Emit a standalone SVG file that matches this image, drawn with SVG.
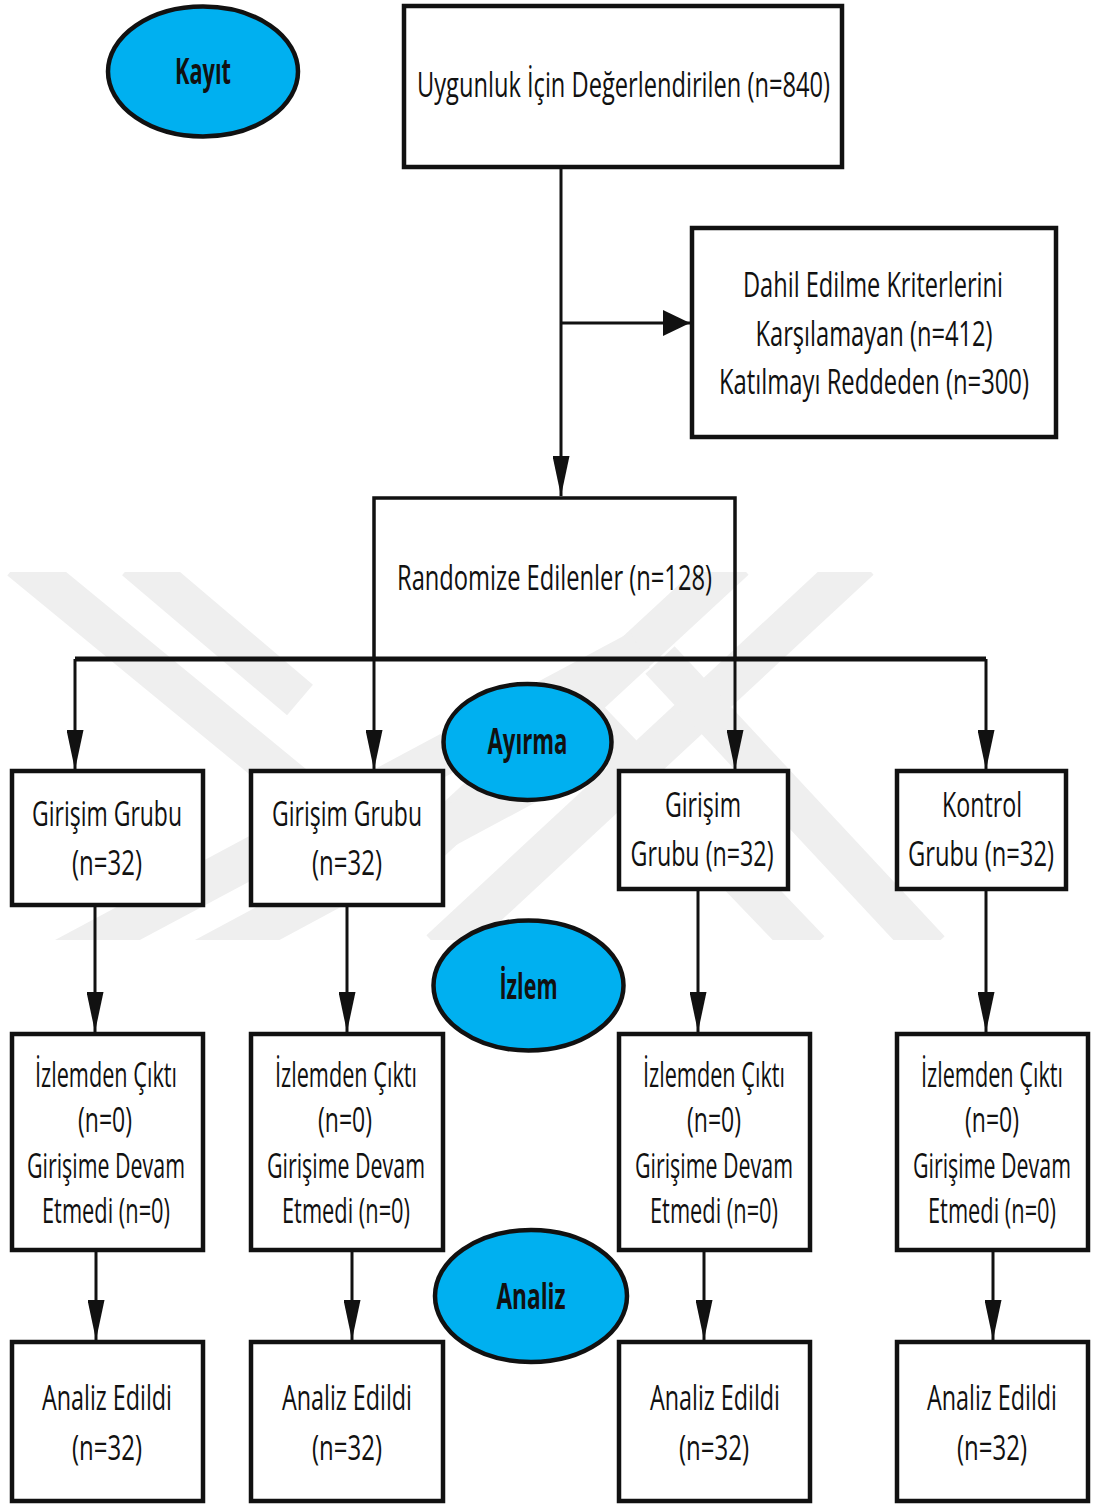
<svg xmlns="http://www.w3.org/2000/svg" width="1094" height="1504" viewBox="0 0 1094 1504">
<style>
.box{fill:#ffffff;stroke:#111111;stroke-width:4.5;stroke-linejoin:miter}
.ell{fill:#00B0F0;stroke:#111111;stroke-width:4.5}
.t{font-family:"Open Sans","Noto Sans","Liberation Sans",sans-serif;font-size:34px;fill:#111111;text-anchor:middle}
.b{font-family:"Open Sans","Noto Sans","Liberation Sans",sans-serif;font-size:36px;font-weight:bold;fill:#111111;text-anchor:middle}
.c{fill:none;stroke:#111111;stroke-width:3}
.wm{fill:none;stroke:#efefef;stroke-width:40;stroke-linecap:butt}
</style>
<defs>
<marker id="ad" markerWidth="40" markerHeight="17" refX="40" refY="8.5" orient="auto" markerUnits="userSpaceOnUse" viewBox="0 0 40 17">
<path d="M0,0 L40,8.5 L0,17 Z" fill="#111111"/>
</marker>
<marker id="ar" markerWidth="27" markerHeight="26" refX="27" refY="13" orient="auto" markerUnits="userSpaceOnUse" viewBox="0 0 27 26">
<path d="M0,0 L27,13 L0,26 Z" fill="#111111"/>
</marker>
<clipPath id="wmclip"><rect x="0" y="572" width="1094" height="368"/></clipPath>
</defs>
<rect x="0" y="0" width="1094" height="1504" fill="#ffffff"/>
<g id="watermark" clip-path="url(#wmclip)">
<line class="wm" x1="20" y1="560" x2="300" y2="790"/>
<line class="wm" x1="135" y1="560" x2="300" y2="700"/>
<line class="wm" x1="735" y1="560" x2="400" y2="870"/>
<line class="wm" x1="860" y1="560" x2="440" y2="950"/>
<line class="wm" x1="60" y1="960" x2="640" y2="650"/>
<line class="wm" x1="200" y1="960" x2="600" y2="745"/>
<line class="wm" x1="570" y1="700" x2="810" y2="950"/>
<line class="wm" x1="660" y1="660" x2="930" y2="950"/>
</g>
<g id="connectors">
<path class="c" d="M561,167 V496" marker-end="url(#ad)"/>
<path class="c" d="M561,323 H690" marker-end="url(#ar)"/>
<path d="M75,659 H986" fill="none" stroke="#111111" stroke-width="5"/>
<path class="c" d="M75,659 V770" marker-end="url(#ad)"/>
<path class="c" d="M374,659 V770" marker-end="url(#ad)"/>
<path class="c" d="M735,659 V770" marker-end="url(#ad)"/>
<path class="c" d="M986,659 V770" marker-end="url(#ad)"/>
<path class="c" d="M95,905 V1032" marker-end="url(#ad)"/>
<path class="c" d="M347,905 V1032" marker-end="url(#ad)"/>
<path class="c" d="M698,889 V1032" marker-end="url(#ad)"/>
<path class="c" d="M986,889 V1032" marker-end="url(#ad)"/>
<path class="c" d="M96,1250 V1340" marker-end="url(#ad)"/>
<path class="c" d="M352,1250 V1340" marker-end="url(#ad)"/>
<path class="c" d="M704,1250 V1340" marker-end="url(#ad)"/>
<path class="c" d="M993,1250 V1340" marker-end="url(#ad)"/>
</g>
<g id="kayit"><ellipse class="ell" cx="203" cy="71.5" rx="95" ry="65"/><text class="b" x="203" y="84" textLength="56" lengthAdjust="spacingAndGlyphs">Kayıt</text></g>
<g id="uygunluk"><rect class="box" x="404" y="6" width="438" height="161"/><text class="t" x="623.5" y="97" textLength="413" lengthAdjust="spacingAndGlyphs">Uygunluk İçin Değerlendirilen (n=840)</text></g>
<g id="dahil"><rect class="box" x="692" y="228" width="364" height="209"/>
<text class="t" x="873" y="297" textLength="260" lengthAdjust="spacingAndGlyphs">Dahil Edilme Kriterlerini</text>
<text class="t" x="874" y="346" textLength="237" lengthAdjust="spacingAndGlyphs">Karşılamayan (n=412)</text>
<text class="t" x="874" y="394" textLength="310" lengthAdjust="spacingAndGlyphs">Katılmayı Reddeden (n=300)</text></g>
<g id="randomize"><path d="M374,659 V498 H735 V659" fill="none" stroke="#111111" stroke-width="3.5"/><text class="t" x="554.5" y="590" textLength="315" lengthAdjust="spacingAndGlyphs">Randomize Edilenler (n=128)</text></g>
<g id="ayirma"><ellipse class="ell" cx="527.5" cy="742" rx="84" ry="58"/><text class="b" x="527.5" y="754" textLength="80" lengthAdjust="spacingAndGlyphs">Ayırma</text></g>
<g id="grup1"><rect class="box" x="12" y="771" width="191" height="134"/>
<text class="t" x="107" y="826" textLength="150" lengthAdjust="spacingAndGlyphs">Girişim Grubu</text>
<text class="t" x="107" y="875" textLength="70" lengthAdjust="spacingAndGlyphs">(n=32)</text></g>
<g id="grup2"><rect class="box" x="251" y="771" width="192" height="134"/>
<text class="t" x="347" y="826" textLength="150" lengthAdjust="spacingAndGlyphs">Girişim Grubu</text>
<text class="t" x="347" y="875" textLength="70" lengthAdjust="spacingAndGlyphs">(n=32)</text></g>
<g id="grup3"><rect class="box" x="619" y="771" width="169" height="118"/>
<text class="t" x="703" y="817" textLength="76" lengthAdjust="spacingAndGlyphs">Girişim</text>
<text class="t" x="702" y="866" textLength="143" lengthAdjust="spacingAndGlyphs">Grubu (n=32)</text></g>
<g id="kontrol"><rect class="box" x="897" y="771" width="169" height="118"/>
<text class="t" x="982" y="817" textLength="80" lengthAdjust="spacingAndGlyphs">Kontrol</text>
<text class="t" x="981" y="866" textLength="146" lengthAdjust="spacingAndGlyphs">Grubu (n=32)</text></g>
<g id="izlem"><ellipse class="ell" cx="528.5" cy="985.5" rx="95" ry="65"/><text class="b" x="528.5" y="999" textLength="58" lengthAdjust="spacingAndGlyphs">İzlem</text></g>
<g id="izlem1"><rect class="box" x="12" y="1034" width="191" height="216"/>
<text class="t" x="106" y="1087" textLength="142" lengthAdjust="spacingAndGlyphs">İzlemden Çıktı</text>
<text class="t" x="105" y="1132" textLength="54" lengthAdjust="spacingAndGlyphs">(n=0)</text>
<text class="t" x="106" y="1178" textLength="158" lengthAdjust="spacingAndGlyphs">Girişime Devam</text>
<text class="t" x="106" y="1223" textLength="128" lengthAdjust="spacingAndGlyphs">Etmedi (n=0)</text></g>
<g id="izlem2"><rect class="box" x="251" y="1034" width="192" height="216"/>
<text class="t" x="346" y="1087" textLength="142" lengthAdjust="spacingAndGlyphs">İzlemden Çıktı</text>
<text class="t" x="345" y="1132" textLength="54" lengthAdjust="spacingAndGlyphs">(n=0)</text>
<text class="t" x="346" y="1178" textLength="158" lengthAdjust="spacingAndGlyphs">Girişime Devam</text>
<text class="t" x="346" y="1223" textLength="128" lengthAdjust="spacingAndGlyphs">Etmedi (n=0)</text></g>
<g id="izlem3"><rect class="box" x="619" y="1034" width="191" height="216"/>
<text class="t" x="714" y="1087" textLength="142" lengthAdjust="spacingAndGlyphs">İzlemden Çıktı</text>
<text class="t" x="714" y="1132" textLength="54" lengthAdjust="spacingAndGlyphs">(n=0)</text>
<text class="t" x="714" y="1178" textLength="158" lengthAdjust="spacingAndGlyphs">Girişime Devam</text>
<text class="t" x="714" y="1223" textLength="128" lengthAdjust="spacingAndGlyphs">Etmedi (n=0)</text></g>
<g id="izlem4"><rect class="box" x="897" y="1034" width="191" height="216"/>
<text class="t" x="992" y="1087" textLength="142" lengthAdjust="spacingAndGlyphs">İzlemden Çıktı</text>
<text class="t" x="992" y="1132" textLength="54" lengthAdjust="spacingAndGlyphs">(n=0)</text>
<text class="t" x="992" y="1178" textLength="158" lengthAdjust="spacingAndGlyphs">Girişime Devam</text>
<text class="t" x="992" y="1223" textLength="128" lengthAdjust="spacingAndGlyphs">Etmedi (n=0)</text></g>
<g id="analiz"><ellipse class="ell" cx="531" cy="1296" rx="96" ry="66"/><text class="b" x="531" y="1309" textLength="69" lengthAdjust="spacingAndGlyphs">Analiz</text></g>
<g id="analiz1"><rect class="box" x="12" y="1342" width="191" height="159"/>
<text class="t" x="107" y="1410" textLength="130" lengthAdjust="spacingAndGlyphs">Analiz Edildi</text>
<text class="t" x="107" y="1460" textLength="70" lengthAdjust="spacingAndGlyphs">(n=32)</text></g>
<g id="analiz2"><rect class="box" x="251" y="1342" width="192" height="159"/>
<text class="t" x="347" y="1410" textLength="130" lengthAdjust="spacingAndGlyphs">Analiz Edildi</text>
<text class="t" x="347" y="1460" textLength="70" lengthAdjust="spacingAndGlyphs">(n=32)</text></g>
<g id="analiz3"><rect class="box" x="619" y="1342" width="191" height="159"/>
<text class="t" x="715" y="1410" textLength="130" lengthAdjust="spacingAndGlyphs">Analiz Edildi</text>
<text class="t" x="714" y="1460" textLength="70" lengthAdjust="spacingAndGlyphs">(n=32)</text></g>
<g id="analiz4"><rect class="box" x="897" y="1342" width="191" height="159"/>
<text class="t" x="992" y="1410" textLength="130" lengthAdjust="spacingAndGlyphs">Analiz Edildi</text>
<text class="t" x="992" y="1460" textLength="70" lengthAdjust="spacingAndGlyphs">(n=32)</text></g>
</svg>
